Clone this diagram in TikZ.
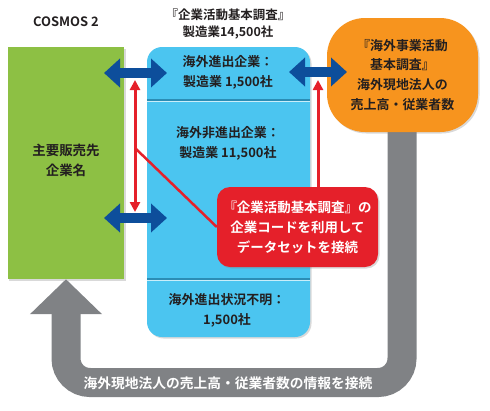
\documentclass[tikz,border=0pt]{standalone}
\usepackage{fontspec}
\setmainfont{Noto Sans CJK JP}[BoldFont={Noto Sans CJK JP Bold}]
\usetikzlibrary{arrows.meta,shadows}
\definecolor{cosgreen}{HTML}{8DC044}
\definecolor{surveyblue}{HTML}{4BC5F0}
\definecolor{rulerblue}{HTML}{2B8DB5}
\definecolor{linkblue}{HTML}{0D4E9B}
\definecolor{abroadorange}{HTML}{F7941E}
\definecolor{codered}{HTML}{E5202A}
\definecolor{loopgray}{HTML}{808285}
\definecolor{inkgray}{HTML}{231F20}

\begin{document}
\begin{tikzpicture}[x=1bp,y=-1bp,
  txt/.style={font=\fontsize{13}{20}\selectfont\bfseries, text=inkgray, align=center, inner sep=0pt},
  panel/.style={inner sep=0pt, drop shadow={shadow xshift=1.5bp, shadow yshift=-1.5bp, opacity=0.3}},
  linkarrow/.style={draw=linkblue, line width=10bp, {Triangle[length=16bp,width=28bp]}-{Triangle[length=16bp,width=28bp]}},
  codearrow/.style={draw=codered, line width=3bp, preaction={draw=white, line width=6bp}},
]
\useasboundingbox (0,0) rectangle (490,410);

% boxes
\node[panel, fill=cosgreen, minimum width=116bp, minimum height=232bp] (cosmos) at (66,163) {};
\node[panel, fill=surveyblue, rounded corners=15bp, minimum width=163bp, minimum height=290bp] (survey) at (228.5,192) {};

% gray loop from the overseas survey back to COSMOS
\coordinate (loopstart) at (402,125);
\coordinate (loopright) at (402,382.5);
\coordinate (loopleft) at (66,382.5);
\draw[loopgray, line width=29bp, rounded corners=24bp, -{Triangle[length=35bp,width=70bp]}]
  (loopstart) -- (loopright) -- (loopleft) -- (cosmos.south);

\node[panel, fill=abroadorange, rounded corners=38bp, minimum width=151bp, minimum height=114bp] (abroad) at (402.5,75) {};
\node[txt] (abroadtxt) at (abroad.center) {『海外事業活動\\基本調査』\\海外現地法人の\\売上高・従業者数};

% titles
\node[txt] (cosmostitle) at (66,22) {COSMOS 2};
\node[txt, font=\fontsize{12.5}{18}\selectfont\bfseries] (surveytitle) at (228,24) {『企業活動基本調査』\\製造業14,500社};
\node[txt, font=\fontsize{13.5}{20}\selectfont\bfseries] (cosmostxt) at (66,160) {主要販売先\\企業名};

% survey sections
\draw[rulerblue, line width=1.2bp] (survey.west |- 0,100) -- (survey.east |- 0,100);
\draw[white!70!surveyblue, line width=1bp] (survey.west |- 0,101.5) -- (survey.east |- 0,101.5);
\draw[rulerblue, line width=1.2bp] (survey.west |- 0,279) -- (survey.east |- 0,279);
\draw[white!70!surveyblue, line width=1bp] (survey.west |- 0,280.5) -- (survey.east |- 0,280.5);
\node[txt] (sec1) at (228,72) {海外進出企業：\\製造業 1,500社};
\node[txt] (sec2) at (228,143) {海外非進出企業：\\製造業 11,500社};
\node[txt] (sec3) at (227,310) {海外進出状況不明：\\1,500社};

% code box
\node[panel, fill=codered, rounded corners=13bp, minimum width=161bp, minimum height=80bp] (code) at (297.5,227) {};
\node[txt, text=white, font=\fontsize{13.5}{20}\selectfont\bfseries] (codetxt) at (code.center) {『企業活動基本調査』の\\企業コードを利用して\\データセットを接続};

% red arrows
\coordinate (redtop) at (135,80);
\coordinate (redbottom) at (135,212);
\coordinate (redbranch) at (135,148);
\coordinate (redup) at (318,80);
\draw[codearrow, {Triangle[length=10bp,width=10bp]}-{Triangle[length=10bp,width=10bp]}] (redtop) -- (redbottom);
\draw[codered, line width=2.5bp] (redbranch) -- (code.west);
\draw[codearrow, -{Triangle[length=10bp,width=10bp]}] (code.north -| redup) -- (redup);

% blue links
\coordinate (linkA1) at (104,73);
\coordinate (linkA2) at (167,73);
\coordinate (linkB1) at (104,218);
\coordinate (linkB2) at (167,218);
\coordinate (linkC1) at (289,72);
\coordinate (linkC2) at (347,72);
\draw[linkarrow] (linkA1) -- (linkA2);
\draw[linkarrow] (linkB1) -- (linkB2);
\draw[linkarrow] (linkC1) -- (linkC2);

\node[txt, text=white, font=\fontsize{13.8}{16}\selectfont\bfseries] (looptxt) at (228,383) {海外現地法人の売上高・従業者数の情報を接続};
\end{tikzpicture}
\end{document}
